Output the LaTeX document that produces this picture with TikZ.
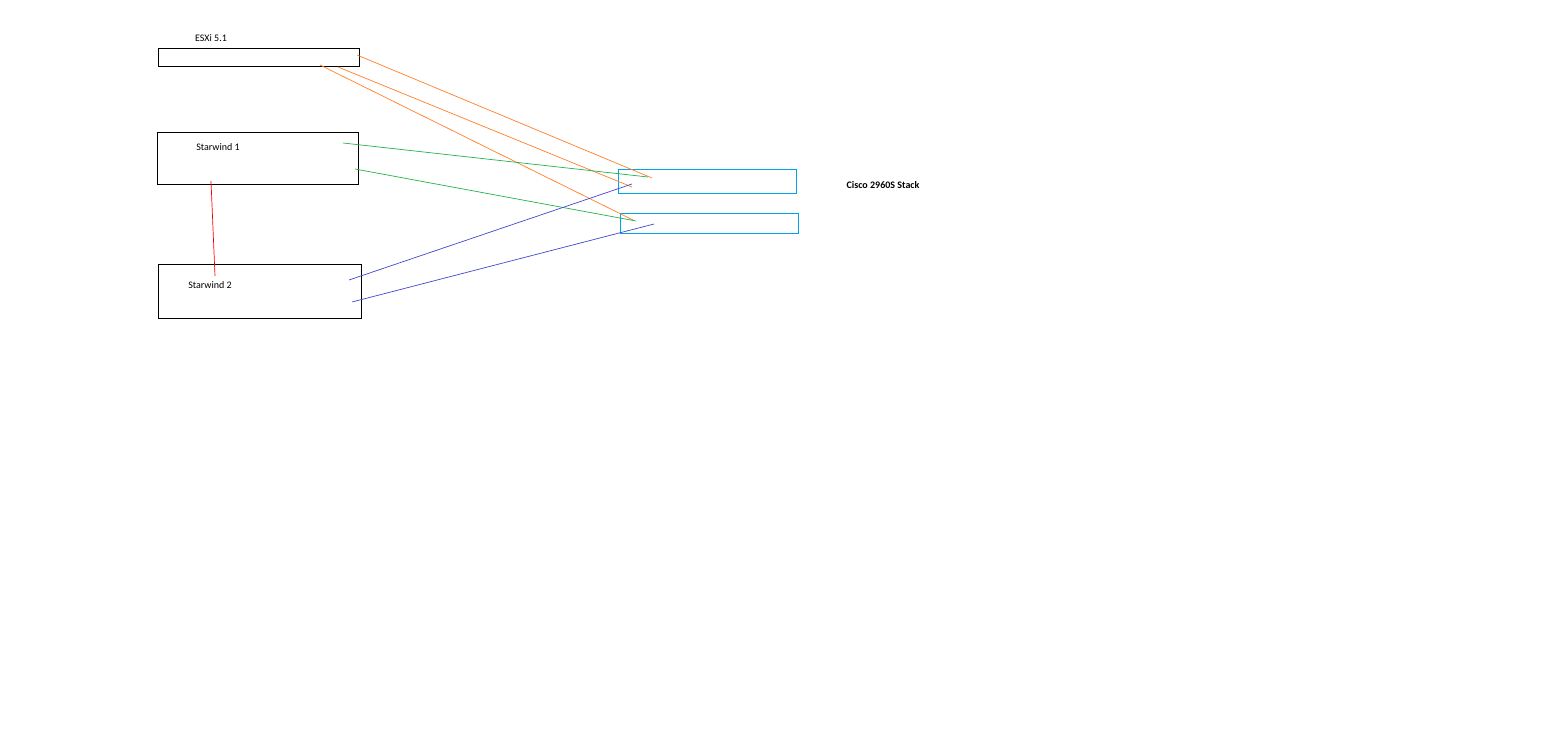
\documentclass[tikz,border=0pt]{standalone}
\usepackage{fontspec}
\setmainfont{Carlito}
\begin{document}
\begin{tikzpicture}[x=1pt,y=-1pt,
 box/.style={draw=black,line width=0.9pt},
 sw/.style={draw={rgb,255:red,0;green,162;blue,232},line width=0.9pt},
 lbl/.style={font=\fontsize{10}{12}\selectfont,inner sep=0pt},
 org/.style={draw={rgb,255:red,255;green,127;blue,39},line width=0.7pt},
 grn/.style={draw={rgb,255:red,34;green,177;blue,76},line width=0.7pt},
 blu/.style={draw={rgb,255:red,63;green,72;blue,204},line width=0.7pt},
 redl/.style={draw=red,line width=0.7pt}]
\useasboundingbox (0,0) rectangle (1560,743);
\draw[box] (158,48) rectangle (359,66);
\draw[box] (157,132) rectangle (358,184);
\draw[box] (158,264) rectangle (361,318);
\draw[sw] (618,169) rectangle (796,193);
\draw[sw] (620,213) rectangle (798,233);
\node[lbl] (esx) at (211,38) {ESXi 5.1};
\node[lbl] (s1) at (218,147) {Starwind 1};
\node[lbl] (s2) at (210,285) {Starwind 2};
\node[lbl,font=\fontsize{10}{12}\selectfont\bfseries] (cs) at (883,185) {Cisco 2960S Stack};
\coordinate (o1a) at (357,55); \coordinate (o1b) at (652,178);
\coordinate (o2a) at (338,67); \coordinate (o2b) at (632,187);
\coordinate (o3a) at (320,65); \coordinate (o3b) at (633,220);
\coordinate (g1a) at (343,143); \coordinate (g1b) at (648,177);
\coordinate (g2a) at (355,169); \coordinate (g2b) at (636,221);
\coordinate (b1a) at (349,280); \coordinate (b1b) at (632,184);
\coordinate (b2a) at (352,302); \coordinate (b2b) at (654,224);
\coordinate (ra) at (211,181); \coordinate (rb) at (215,276);
\draw[org] (o1a) -- (o1b);
\draw[org] (o2a) -- (o2b);
\draw[org] (o3a) -- (o3b);
\draw[grn] (g1a) -- (g1b);
\draw[grn] (g2a) -- (g2b);
\draw[blu] (b1a) -- (b1b);
\draw[blu] (b2a) -- (b2b);
\draw[redl] (ra) -- (rb);
\end{tikzpicture}
\end{document}
